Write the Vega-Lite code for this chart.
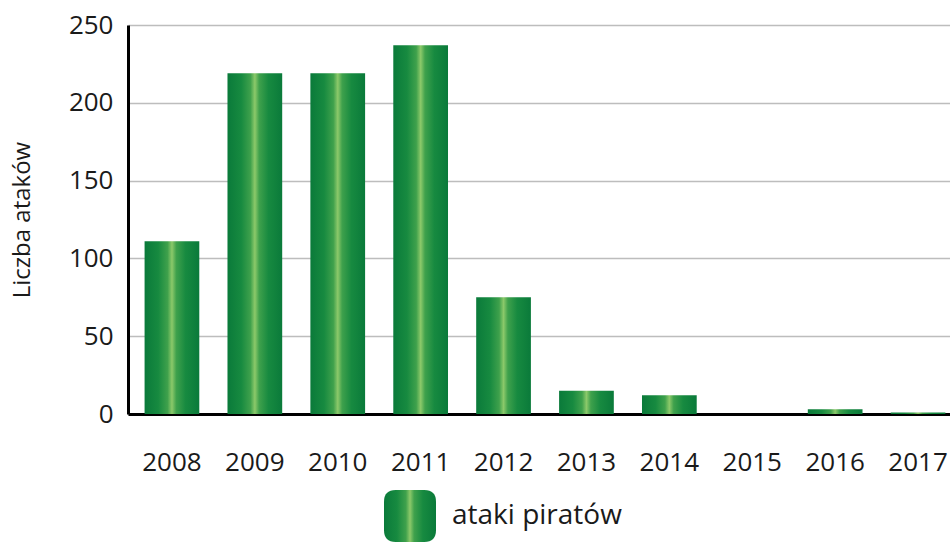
{
  "$schema": "https://vega.github.io/schema/vega-lite/v6.json",
  "autosize": {"type": "none"},
  "padding": {"left": 128, "top": 25, "right": -12, "bottom": 129},
  "width": 834,
  "height": 389,
  "background": "white",
  "config": {
    "font": "Open Sans",
    "view": {"stroke": null}
  },
  "data": {
    "values": [
      {"rok": "2008", "ataki": 111, "seria": "ataki piratów"},
      {"rok": "2009", "ataki": 219, "seria": "ataki piratów"},
      {"rok": "2010", "ataki": 219, "seria": "ataki piratów"},
      {"rok": "2011", "ataki": 237, "seria": "ataki piratów"},
      {"rok": "2012", "ataki": 75, "seria": "ataki piratów"},
      {"rok": "2013", "ataki": 15, "seria": "ataki piratów"},
      {"rok": "2014", "ataki": 12, "seria": "ataki piratów"},
      {"rok": "2015", "ataki": 0, "seria": "ataki piratów"},
      {"rok": "2016", "ataki": 3, "seria": "ataki piratów"},
      {"rok": "2017", "ataki": 1, "seria": "ataki piratów"}
    ]
  },
  "encoding": {
    "x": {
      "field": "rok",
      "type": "ordinal",
      "scale": {"paddingInner": 0.34, "paddingOuter": 0.2},
      "axis": {
        "title": null,
        "labelAngle": 0,
        "labelFontSize": 26,
        "labelColor": "#1a1a1a",
        "labelPadding": 35,
        "ticks": false,
        "domainColor": "#000000",
        "domainWidth": 3
      }
    },
    "y": {
      "field": "ataki",
      "type": "quantitative",
      "scale": {"domain": [0, 250]},
      "axis": {
        "title": "Liczba ataków",
        "titleFontSize": 24,
        "titleFontWeight": "normal",
        "titleColor": "#1a1a1a",
        "titlePadding": 34,
        "values": [0, 50, 100, 150, 200, 250],
        "labelFontSize": 26,
        "labelColor": "#1a1a1a",
        "labelPadding": 15,
        "ticks": false,
        "domainColor": "#000000",
        "domainWidth": 3,
        "gridColor": "#bdbdbd",
        "gridWidth": 1.5
      }
    }
  },
  "layer": [
    {
      "mark": {
        "type": "bar",
        "color": {
          "gradient": "linear",
          "x1": 0, "x2": 1, "y1": 0, "y2": 0,
          "stops": [
            {"offset": 0, "color": "#0a7a3a"},
            {"offset": 0.25, "color": "#178a40"},
            {"offset": 0.42, "color": "#3fa14c"},
            {"offset": 0.5, "color": "#8cc96a"},
            {"offset": 0.58, "color": "#3fa14c"},
            {"offset": 0.75, "color": "#178a40"},
            {"offset": 1, "color": "#0a7a3a"}
          ]
        }
      }
    },
    {
      "mark": {
        "type": "point",
        "opacity": 0,
        "filled": true,
        "strokeWidth": 0,
        "color": {
          "gradient": "linear",
          "x1": 0, "x2": 1, "y1": 0, "y2": 0,
          "stops": [
            {"offset": 0, "color": "#0a7a3a"},
            {"offset": 0.25, "color": "#178a40"},
            {"offset": 0.42, "color": "#3fa14c"},
            {"offset": 0.5, "color": "#8cc96a"},
            {"offset": 0.58, "color": "#3fa14c"},
            {"offset": 0.75, "color": "#178a40"},
            {"offset": 1, "color": "#0a7a3a"}
          ]
        }
      },
      "encoding": {
        "shape": {
          "field": "seria",
          "type": "nominal",
          "scale": {"range": ["M -1 -0.55 Q -1 -1 -0.55 -1 L 0.55 -1 Q 1 -1 1 -0.55 L 1 0.55 Q 1 1 0.55 1 L -0.55 1 Q -1 1 -1 0.55 Z"]},
          "legend": {
            "title": null,
            "orient": "none",
            "legendX": 256,
            "legendY": 465,
            "direction": "horizontal",
            "labelFontSize": 28,
            "labelColor": "#1a1a1a",
            "labelOffset": 16,
            "labelLimit": 400,
            "symbolSize": 2704,
            "symbolOpacity": 1,
            "symbolStrokeWidth": 0
          }
        }
      }
    }
  ]
}
